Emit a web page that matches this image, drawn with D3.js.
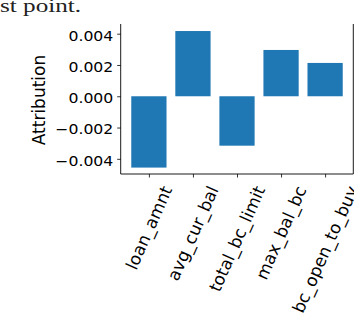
<!DOCTYPE html>
<html>
<head>
<meta charset="utf-8">
<script src="https://cdn.jsdelivr.net/npm/d3@7"></script>
<style>
  body { margin: 0; background: #fff; }
  svg { display: block; }
</style>
</head>
<body>
<div id="chart"></div>
<script>
// data
var features = ["loan_amnt", "avg_cur_bal", "total_bc_limit", "max_bal_bc", "bc_open_to_buy"];
var attributions = [-0.00456, 0.00417, -0.00316, 0.00296, 0.00213];
var yTicks = [-0.004, -0.002, 0.000, 0.002, 0.004];

var width = 354, height = 316;
var margin = {top: 24, right: 0.7, bottom: 142, left: 120.7};
var w = width - margin.left - margin.right,
    h = height - margin.top - margin.bottom;

var svg = d3.select("#chart").append("svg")
    .attr("width", width)
    .attr("height", height);

svg.append("rect").attr("width", width).attr("height", height).attr("fill", "#fff");

// cropped caption line from the page above the figure
svg.append("text")
    .attr("transform", "translate(0,12) scale(1.36,1)")
    .attr("font-family", "Liberation Serif, serif")
    .attr("font-size", "18.5px")
    .attr("fill", "#222")
    .text("st point.");

var g = svg.append("g")
    .attr("transform", "translate(" + margin.left + "," + margin.top + ")");

// matplotlib style: bars at 0..n-1, width 0.8, 5% margins
var n = features.length;
var x = d3.scaleLinear().domain([-0.64, n - 1 + 0.64]).range([0, w]);
var y = d3.scaleLinear().domain([-0.00497, 0.00462]).range([h, 0]);

g.selectAll(".bar")
    .data(attributions)
    .enter().append("rect")
    .attr("class", "bar")
    .attr("x", function(d, i) { return x(i - 0.4); })
    .attr("width", function(d, i) { return x(i + 0.4) - x(i - 0.4); })
    .attr("y", function(d) { return y(Math.max(0, d)); })
    .attr("height", function(d) { return Math.abs(y(d) - y(0)); })
    .attr("fill", "#1f77b4");

// y axis
var fmt = d3.format(".3f");
var yAxis = g.append("g")
    .call(d3.axisLeft(y).tickValues(yTicks).tickSize(3.5)
      .tickFormat(function(d) { return fmt(d).replace("-", "\u2212"); }));
yAxis.select(".domain").remove();
yAxis.selectAll("text")
    .attr("x", -6.6)
    .attr("dy", "0.45em")
    .attr("transform", "scale(1.12,1)")
    .attr("font-family", "DejaVu Sans")
    .attr("font-size", "14px")
    .attr("fill", "#000");
yAxis.selectAll("line").attr("stroke", "#000").attr("stroke-width", 0.8);

// x axis ticks
var xAxis = g.append("g")
    .attr("transform", "translate(0," + h + ")")
    .call(d3.axisBottom(x).tickValues(d3.range(n)).tickSize(3.5).tickFormat(""));
xAxis.select(".domain").remove();
xAxis.selectAll("line").attr("stroke", "#000").attr("stroke-width", 0.8);

// rotated labels, bounding box centred on the tick (like ha="center")
var angle = -66;
var rad = angle * Math.PI / 180;
g.append("g").selectAll("text")
    .data(features)
    .enter().append("text")
    .attr("font-family", "DejaVu Sans")
    .attr("font-size", "17px")
    .attr("fill", "#000")
    .attr("text-anchor", "end")
    .attr("dy", "0.35em")
    .text(function(d) { return d; })
    .each(function(d, i) {
      var L = this.getComputedTextLength();
      var ax = x(i) + Math.cos(rad) * L / 2;
      var ay = h + 13;
      d3.select(this).attr("transform", "translate(" + ax + "," + ay + ") rotate(" + angle + ")");
    });

// spines: left, right, bottom
g.append("line").attr("x1", 0).attr("x2", 0).attr("y1", 0).attr("y2", h)
    .attr("stroke", "#000").attr("stroke-width", 0.9);
g.append("line").attr("x1", w).attr("x2", w).attr("y1", 0).attr("y2", h)
    .attr("stroke", "#000").attr("stroke-width", 0.9);
g.append("line").attr("x1", 0).attr("x2", w).attr("y1", h).attr("y2", h)
    .attr("stroke", "#000").attr("stroke-width", 0.9);

// y label
svg.append("text")
    .attr("transform", "translate(45," + (margin.top + h / 2 + 1) + ") rotate(-90)")
    .attr("text-anchor", "middle")
    .attr("font-family", "DejaVu Sans")
    .attr("font-size", "17px")
    .attr("fill", "#000")
    .text("Attribution");
</script>
</body>
</html>
